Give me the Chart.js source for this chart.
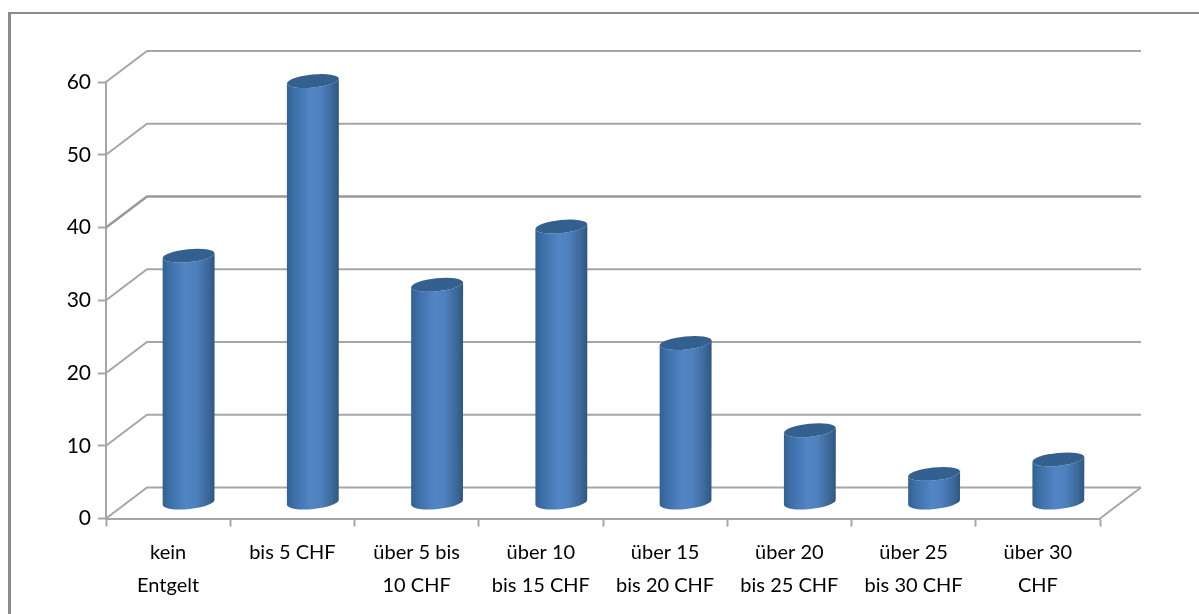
<!DOCTYPE html>
<html lang="de">
<head>
  <meta charset="UTF-8"/>
  <title>Entgelt</title>
  <script src="https://cdn.jsdelivr.net/npm/chart.js"></script>
  <style>
    html,body{margin:0;padding:0;background:#fff;overflow:hidden;}
    #wrap{position:relative;width:1199px;height:614px;}
    #frame{position:absolute;left:8px;top:12px;right:0;bottom:0;border-left:3px solid #8c8c8c;border-top:2px solid #8c8c8c;}
    canvas{position:absolute;left:0;top:0;}
  </style>
</head>
<body>
<div id="wrap">
  <div id="frame"></div>
  <canvas id="chart" width="1199" height="614"></canvas>
</div>
<script>
  const categories=[['kein','Entgelt'],'bis 5 CHF',['über 5 bis','10 CHF'],['über 10','bis 15 CHF'],['über 15','bis 20 CHF'],['über 20','bis 25 CHF'],['über 25','bis 30 CHF'],['über 30','CHF']];
  const values=[34,58,30,38,22,10,4,6];
  const yMax=60, yStep=10;

  const lineGrey='#a6a6a6';
  const depthX=41, depthY=31;   // how far the back wall sits behind the axis plane

  // back wall + side wall lines, sits behind the bars
  const wallPlugin={
    id:'wall',
    beforeDatasetsDraw(chart){
      const {ctx,chartArea:a,scales:{y}}=chart;
      ctx.save();
      ctx.strokeStyle=lineGrey;
      ctx.lineWidth=2;
      y.ticks.forEach(t=>{
        const py=y.getPixelForValue(t.value);
        ctx.lineWidth=t.value===40?2.6:2;
        ctx.strokeStyle=t.value===40?'#999':lineGrey;
        ctx.beginPath();
        ctx.moveTo(a.left,py);
        ctx.lineTo(a.left+depthX,py-depthY);
        ctx.lineTo(a.right+depthX,py-depthY);
        ctx.stroke();
      });
      // floor edge on the right
      const p0=y.getPixelForValue(0);
      ctx.lineWidth=2;
      ctx.strokeStyle=lineGrey;
      ctx.beginPath();
      ctx.moveTo(a.right+depthX,p0-depthY);
      ctx.lineTo(a.right,p0);
      ctx.stroke();
      ctx.restore();
    }
  };

  // the bars stay invisible, each one gets a cylinder from its element geometry
  const cylinderPlugin={
    id:'cylinder',
    afterDatasetsDraw(chart){
      const {ctx}=chart;
      const tilt=-0.1;
      chart.getDatasetMeta(0).data.forEach(bar=>{
        const cx=bar.x+depthX/2, rx=bar.width/2, ry=6.5;
        const top=bar.y-depthY/2, bottom=bar.base-depthY/2;
        const slope=Math.tan(tilt)*rx;
        const g=ctx.createLinearGradient(cx-rx,0,cx+rx,0);
        g.addColorStop(0,'#33608f');
        g.addColorStop(0.12,'#3c6da6');
        g.addColorStop(0.45,'#5285c5');
        g.addColorStop(0.65,'#4d80bd');
        g.addColorStop(0.88,'#3c6797');
        g.addColorStop(1,'#2f5680');
        ctx.save();
        ctx.fillStyle=g;
        ctx.beginPath();
        ctx.moveTo(cx-rx,top-slope);
        ctx.lineTo(cx-rx,bottom-slope);
        ctx.ellipse(cx,bottom,rx,ry,tilt,Math.PI,0,true);
        ctx.lineTo(cx+rx,top+slope);
        ctx.ellipse(cx,top,rx,ry,tilt,0,Math.PI,false);
        ctx.closePath();
        ctx.fill();
        ctx.fillStyle='#33608f';
        ctx.beginPath();
        ctx.ellipse(cx,top,rx,ry,tilt,0,Math.PI*2);
        ctx.fill();
        ctx.restore();
      });
    }
  };

  new Chart(document.getElementById('chart').getContext('2d'),{
    type:'bar',
    data:{labels:categories,datasets:[{data:values,backgroundColor:'rgba(0,0,0,0)',barPercentage:1,categoryPercentage:0.418}]},
    plugins:[wallPlugin,cylinderPlugin],
    options:{
      responsive:false,
      animation:false,
      layout:{padding:{top:82,right:99,left:0,bottom:0}},
      plugins:{legend:{display:false},tooltip:{enabled:false},title:{display:false}},
      scales:{
        x:{
          afterFit(s){s.height=614-82-436.5;},
          grid:{drawOnChartArea:false,drawTicks:true,tickLength:8,tickColor:lineGrey,tickWidth:2},
          border:{color:lineGrey,width:2},
          ticks:{color:'#000',font:{family:'Lato',size:20,lineHeight:1.65},padding:10,maxRotation:0,minRotation:0,autoSkip:false}
        },
        y:{
          min:0,max:yMax,
          afterFit(s){s.width=106;},
          grid:{drawOnChartArea:false,drawTicks:true,tickLength:8,tickColor:lineGrey,tickWidth:2},
          border:{color:lineGrey,width:2},
          ticks:{stepSize:yStep,color:'#000',font:{family:'Lato',size:21},padding:7}
        }
      }
    }
  });
</script>
</body>
</html>
